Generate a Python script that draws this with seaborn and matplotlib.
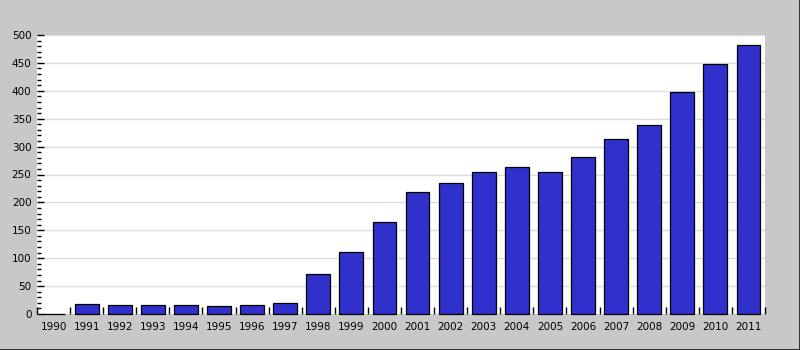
import matplotlib
matplotlib.use("Agg")
import matplotlib.pyplot as plt
import seaborn as sns
import pandas as pd
import numpy as np
from matplotlib.ticker import MultipleLocator, FixedLocator
from matplotlib.lines import Line2D

years = [str(y) for y in range(1990, 2012)]
values = [0, 18, 16, 16, 16, 14, 16, 20, 71, 111, 164, 218, 234, 254, 263, 255, 282, 314, 338, 398, 448, 482]

df = pd.DataFrame({"year": years, "value": values})

sns.set_theme(style="white")
plt.rcParams['font.family'] = ['DejaVu Sans']

fig = plt.figure(figsize=(8, 3.5), dpi=100)
fig.patch.set_facecolor("#c8c8c8")
ax = fig.add_axes([37/800, 36/350, 728/800, 279/350])
ax.set_facecolor("white")

sns.barplot(data=df, x="year", y="value", color="#3030cc", saturation=1,
            width=0.72, edgecolor="black", linewidth=0.9, ax=ax, zorder=3)
for p in ax.patches:
    p.set_clip_on(False)

ax.set_ylim(0, 500)
ax.set_xlim(-0.5, len(years) - 0.5)
ax.set_xlabel("")
ax.set_ylabel("")
for s in ax.spines.values():
    s.set_visible(False)

ax.yaxis.set_major_locator(MultipleLocator(50))
ax.yaxis.set_minor_locator(MultipleLocator(10))
ax.grid(axis="y", color="#dddddd", linewidth=1, zorder=0)
ax.set_axisbelow(True)
ax.tick_params(axis="y", which="major", direction="in", length=5, width=1,
               color="black", labelcolor="black", labelsize=7.5, pad=4, left=True)
ax.tick_params(axis="y", which="minor", direction="in", length=3, width=1,
               color="black", left=True)

ax.xaxis.set_minor_locator(FixedLocator(np.arange(-0.5, len(years), 1.0)))
ax.tick_params(axis="x", which="major", length=0, labelsize=7.5, pad=6,
               labelcolor="black")
ax.tick_params(axis="x", which="minor", direction="in", length=5, width=1,
               color="black", bottom=True)

# bevel border around the picture
fig.add_artist(Line2D([0, 1], [0, 0], color="#222222", lw=2, transform=fig.transFigure))
fig.add_artist(Line2D([1, 1], [0, 1], color="#222222", lw=2, transform=fig.transFigure))

fig.savefig("out.png", dpi=100, facecolor=fig.get_facecolor())
